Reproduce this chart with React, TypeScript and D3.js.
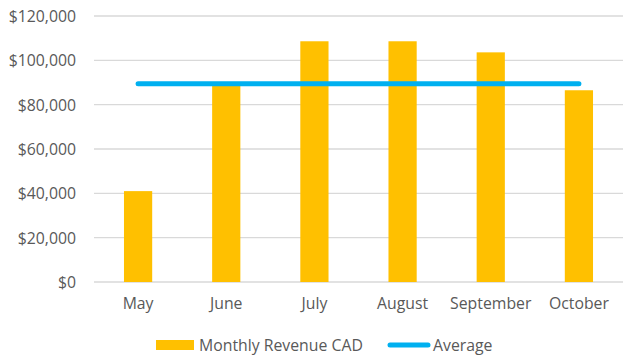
import { useMemo } from "react";
import * as d3 from "d3";

const WIDTH = 635;
const HEIGHT = 362;
const MARGIN = { top: 16, right: 12, bottom: 80, left: 94 };

// data
const months = ["May", "June", "July", "August", "September", "October"];
const revenue = [41000, 88500, 108600, 108600, 103600, 86500];
const yTicks = [0, 20000, 40000, 60000, 80000, 100000, 120000];

const BAR_COLOR = "#FFC000";
const LINE_COLOR = "#00B0F0";
const GRID_COLOR = "#D9D9D9";
const TEXT_COLOR = "#595959";
const FONT = "'Open Sans', 'Noto Sans', sans-serif";
const FONT_SIZE = 15.8;

export default function App() {
  const boundsWidth = WIDTH - MARGIN.left - MARGIN.right;
  const boundsHeight = HEIGHT - MARGIN.top - MARGIN.bottom;

  const xScale = useMemo(
    () =>
      d3
        .scaleBand()
        .domain(months)
        .range([0, boundsWidth])
        .paddingInner(0.68)
        .paddingOuter(0.34),
    [boundsWidth]
  );
  const yScale = d3.scaleLinear().domain([0, 120000]).range([boundsHeight, 0]);

  const average = d3.mean(revenue) as number;
  const avgData = months.map((m) => ({ m, v: average }));
  const center = (m: string) => (xScale(m) as number) + xScale.bandwidth() / 2;
  const avgLine = d3
    .line<{ m: string; v: number }>()
    .x((d) => center(d.m))
    .y((d) => yScale(d.v))(avgData);

  const fmt = d3.format("$,");

  return (
    <svg
      width={WIDTH}
      height={HEIGHT}
      style={{ position: "absolute", left: 0, top: 0 }}
      fontFamily={FONT}
    >
      <rect width={WIDTH} height={HEIGHT} fill="#fff" />
      <g transform={`translate(${MARGIN.left},${MARGIN.top})`}>
        {/* grid + y labels */}
        {yTicks.map((t) => (
          <g key={t}>
            <line
              x1={0}
              x2={boundsWidth}
              y1={yScale(t)}
              y2={yScale(t)}
              stroke={GRID_COLOR}
              strokeWidth={1.4}
            />
            <text
              x={-18}
              y={yScale(t)}
              textAnchor="end"
              dominantBaseline="central"
              fontSize={FONT_SIZE}
              fill={TEXT_COLOR}
            >
              {fmt(t)}
            </text>
          </g>
        ))}

        {/* bars */}
        {months.map((m, i) => (
          <rect
            key={m}
            x={xScale(m)}
            y={yScale(revenue[i])}
            width={xScale.bandwidth()}
            height={boundsHeight - yScale(revenue[i])}
            fill={BAR_COLOR}
          />
        ))}

        {/* average line */}
        <path
          d={avgLine ?? ""}
          fill="none"
          stroke={LINE_COLOR}
          strokeWidth={5}
          strokeLinecap="round"
        />

        {/* x labels */}
        {months.map((m) => (
          <text
            key={m}
            x={center(m)}
            y={boundsHeight + 27}
            textAnchor="middle"
            fontSize={FONT_SIZE}
            fill={TEXT_COLOR}
          >
            {m}
          </text>
        ))}
      </g>

      {/* legend */}
      <g fontSize={FONT_SIZE} fill={TEXT_COLOR}>
        <rect x={156} y={340} width={38} height={10} fill={BAR_COLOR} />
        <text x={199} y={350.5}>
          Monthly Revenue CAD
        </text>
        <line
          x1={390}
          x2={428}
          y1={345}
          y2={345}
          stroke={LINE_COLOR}
          strokeWidth={5}
          strokeLinecap="round"
        />
        <text x={433} y={350.5}>
          Average
        </text>
      </g>
    </svg>
  );
}
